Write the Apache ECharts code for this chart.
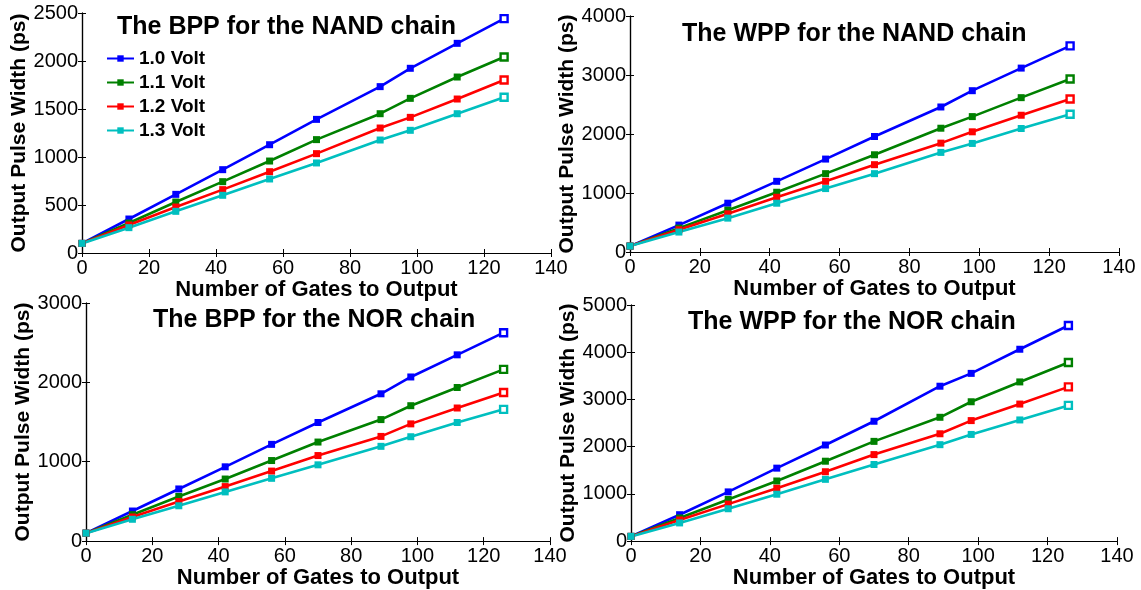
<!DOCTYPE html>
<html>
<head>
<meta charset="utf-8">
<script src="https://cdn.jsdelivr.net/npm/echarts@6/dist/echarts.min.js"></script>
<style>html,body{margin:0;padding:0;background:#fff;}#chart{width:1141px;height:590px;}</style>
</head>
<body>
<div id="chart"></div>
<script>
// Number of gates to output (x values)
const gatesX = [0, 14, 28, 42, 56, 70, 89, 98, 112, 126];
const voltLabels = ['1.0 Volt', '1.1 Volt', '1.2 Volt', '1.3 Volt'];
const panelTitles = ['The BPP for the NAND chain', 'The WPP for the NAND chain', 'The BPP for the NOR chain', 'The WPP for the NOR chain'];
const xAxisName = 'Number of Gates to Output';
const yAxisName = 'Output Pulse Width (ps)';
const xTickMax = 140, xTickStep = 20;
const yTickMax = [2500, 4000, 3000, 5000];
const yTickStep = [500, 1000, 1000, 1000];

// BPP NAND chain
const bppNand10 = [100, 354, 611, 868, 1128, 1392, 1733, 1924, 2184, 2441];
const bppNand11 = [100, 312, 531, 743, 958, 1181, 1451, 1611, 1833, 2042];
const bppNand12 = [100, 292, 479, 660, 847, 1035, 1302, 1413, 1604, 1802];
const bppNand13 = [100, 264, 434, 601, 771, 938, 1177, 1278, 1451, 1622];
// WPP NAND chain
const wppNand10 = [100, 456, 827, 1198, 1575, 1958, 2458, 2734, 3117, 3494];
const wppNand11 = [100, 405, 709, 1013, 1328, 1648, 2098, 2295, 2616, 2931];
const wppNand12 = [100, 377, 647, 928, 1198, 1480, 1845, 2037, 2318, 2594];
const wppNand13 = [100, 338, 574, 827, 1075, 1328, 1688, 1840, 2093, 2335];
// BPP NOR chain
const bppNor10 = [100, 379, 657, 936, 1219, 1494, 1856, 2068, 2347, 2626];
const bppNor11 = [100, 333, 562, 782, 1015, 1248, 1531, 1706, 1935, 2164];
const bppNor12 = [100, 304, 499, 687, 882, 1078, 1319, 1477, 1677, 1873];
const bppNor13 = [100, 275, 445, 620, 791, 961, 1194, 1315, 1494, 1660];
// WPP NOR chain
const wppNor10 = [100, 559, 1042, 1545, 2035, 2538, 3280, 3552, 4063, 4566];
const wppNor11 = [100, 490, 881, 1273, 1692, 2112, 2622, 2951, 3371, 3783];
const wppNor12 = [100, 448, 783, 1119, 1469, 1832, 2273, 2552, 2902, 3266];
const wppNor13 = [100, 385, 685, 993, 1308, 1622, 2042, 2259, 2566, 2874];

const panelData = [
  [bppNand10, bppNand11, bppNand12, bppNand13],
  [wppNand10, wppNand11, wppNand12, wppNand13],
  [bppNor10, bppNor11, bppNor12, bppNor13],
  [wppNor10, wppNor11, wppNor12, wppNor13]
];

// ---- layout / style (not data) ----
const FONT = '"Liberation Sans", Arial, Helvetica, sans-serif';
const lineColors = ['#0000FF', '#008000', '#FF0000', '#00BFBF'];
const grids = [
  {left: 82, top: 13, width: 469, height: 240},
  {left: 630, top: 16, width: 489, height: 236},
  {left: 86, top: 303, width: 464, height: 240},
  {left: 631, top: 305, width: 486, height: 238}
];
const titlePos = [
  {left: 117, top: 15},
  {left: 682, top: 22},
  {left: 153, top: 308},
  {left: 688, top: 310}
];

const xAxes = [], yAxes = [], series = [], titles = [];
const plain = v => String(v);
grids.forEach((g, i) => {
  const tickStyle = {show: true, inside: true, length: 4, lineStyle: {color: '#000', width: 1}};
  const lineStyle = {show: true, lineStyle: {color: '#000', width: 1.2}};
  xAxes.push({
    type: 'value', gridIndex: i, position: 'bottom', min: 0, max: xTickMax, interval: xTickStep,
    name: xAxisName, nameLocation: 'middle', nameGap: 22,
    nameTextStyle: {fontFamily: FONT, fontSize: 22, fontWeight: 'bold', color: '#000'},
    axisLine: lineStyle, axisTick: tickStyle, splitLine: {show: false},
    axisLabel: {fontFamily: FONT, fontSize: 20, color: '#000', margin: 5, formatter: plain}
  });
  xAxes.push({
    type: 'value', gridIndex: i, position: 'top', min: 0, max: xTickMax, interval: xTickStep,
    axisLine: lineStyle, axisTick: tickStyle, splitLine: {show: false}, axisLabel: {show: false}
  });
  yAxes.push({
    type: 'value', gridIndex: i, position: 'left', min: 0, max: yTickMax[i], interval: yTickStep[i],
    name: yAxisName, nameLocation: 'middle', nameGap: 52, nameRotate: 90,
    nameTextStyle: {fontFamily: FONT, fontSize: 21, fontWeight: 'bold', color: '#000'},
    axisLine: lineStyle, axisTick: tickStyle, splitLine: {show: false},
    axisLabel: {fontFamily: FONT, fontSize: 20, color: '#000', margin: 4, formatter: plain}
  });
  yAxes.push({
    type: 'value', gridIndex: i, position: 'right', min: 0, max: yTickMax[i], interval: yTickStep[i],
    axisLine: lineStyle, axisTick: tickStyle, splitLine: {show: false}, axisLabel: {show: false}
  });
  titles.push({
    text: panelTitles[i], left: titlePos[i].left, top: titlePos[i].top, padding: 0,
    textStyle: {fontFamily: FONT, fontSize: 25, fontWeight: 'bold', color: '#000'}
  });
  panelData[i].forEach((vals, k) => {
    const n = vals.length;
    series.push({
      type: 'line', name: voltLabels[k], xAxisIndex: 2 * i, yAxisIndex: 2 * i,
      color: lineColors[k],
      symbol: 'rect', symbolSize: 7, showSymbol: true,
      lineStyle: {width: 2.6, color: lineColors[k]},
      itemStyle: {color: lineColors[k]},
      animation: false,
      data: vals.map((v, j) => j === n - 1
        ? {value: [gatesX[j], v], itemStyle: {color: '#fff', borderColor: lineColors[k], borderWidth: 2.4}}
        : [gatesX[j], v])
    });
  });
});

const chart = echarts.init(document.getElementById('chart'), null, {renderer: 'canvas'});
chart.setOption({
  backgroundColor: '#fff',
  animation: false,
  title: titles,
  legend: {
    data: voltLabels, orient: 'vertical', left: 106, top: 49, itemGap: 5,
    itemWidth: 27, itemHeight: 8, padding: 0,
    textStyle: {fontFamily: FONT, fontSize: 19, fontWeight: 'bold', color: '#000'}
  },
  grid: grids,
  xAxis: xAxes,
  yAxis: yAxes,
  series: series
});
</script>
</body>
</html>
